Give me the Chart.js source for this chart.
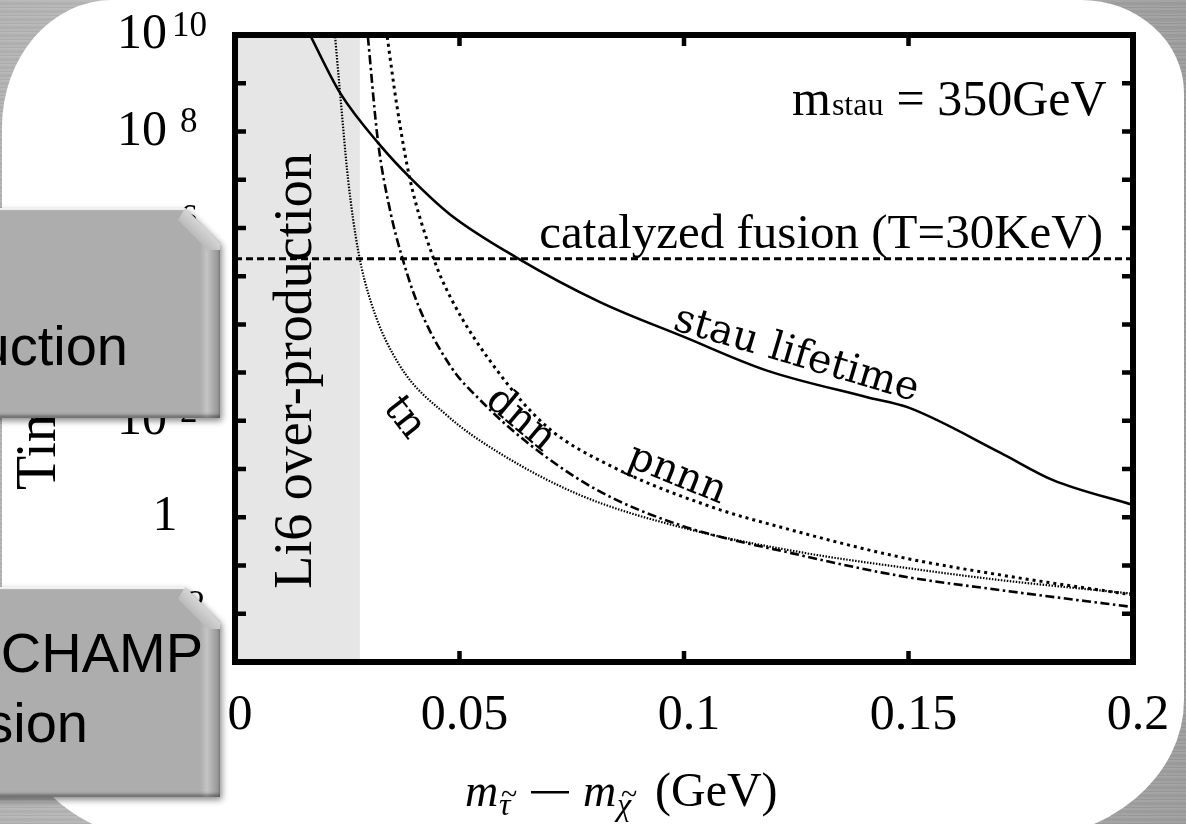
<!DOCTYPE html>
<html>
<head>
<meta charset="utf-8">
<script src="https://cdn.jsdelivr.net/npm/chart.js@4.4.0/dist/chart.umd.min.js"></script>
<style>
html, body { margin: 0; padding: 0; }
body {
  width: 1186px; height: 824px; overflow: hidden; position: relative;
  background:
    repeating-linear-gradient(180deg, rgba(255,255,255,.05) 0 2px, rgba(0,0,0,.03) 2px 5px, rgba(255,255,255,.03) 5px 7px, rgba(0,0,0,.05) 7px 8px),
    linear-gradient(90deg, #b4b4b4, #c6c6c6 40%, #b0b0b0 70%, #9e9e9e);
}
#card {
  position: absolute; left: 2px; top: 0; width: 1182px; height: 840px; background: #fff;
  border-radius: 110px 103px 168px 160px / 127px 93px 140px 160px;
}
#chart { position: absolute; left: 0; top: 0; }
.box { position: absolute; left: -300px; width: 520px; height: 210px; filter: drop-shadow(2px 3px 3px rgba(0,0,0,.45)); }
.face {
  position: absolute; inset: 0;
  clip-path: polygon(0 0, 485px 0, 520px 35px, 520px 100%, 0 100%);
  background: linear-gradient(90deg, #adadad 0, #adadad 500px, #c4c4c4 507px, #8e8e8e 520px);
  box-shadow: inset 0 3px 1px -1px rgba(255,255,255,.85), inset 0 -3px 3px rgba(0,0,0,.35);
}
.bevel {
  position: absolute; left: 478px; top: 0; width: 42px; height: 42px;
  clip-path: polygon(7px 0, 42px 35px, 42px 42px, 30px 42px, 0 12px);
  background: linear-gradient(45deg, #8f8f8f, #d8d8d8 60%, #bcbcbc);
}
.txt {
  position: absolute; font: 56px "Liberation Sans", Arial, sans-serif; line-height: 56px;
  color: #000; white-space: nowrap;
}
</style>
</head>
<body>
<div id="card"></div>
<canvas id="chart" width="1186" height="824"></canvas>
<div class="box" style="top:208px">
  <div class="face"></div><div class="bevel"></div>
  <div class="txt" style="right:92px; top:110px">over-production</div>
</div>
<div class="box" style="top:587px">
  <div class="face"></div><div class="bevel"></div>
  <div class="txt" style="right:17px; top:38px">CHAMP</div>
  <div class="txt" style="right:132px; top:108px">fusion</div>
</div>
<script>
// axis ticks
var xTicks = [0, 0.05, 0.1, 0.15, 0.2];
var yDecades = [1e-3, 1e-2, 1e-1, 1, 1e1, 1e2, 1e3, 1e4, 1e5, 1e6, 1e7, 1e8, 1e9, 1e10];
var yLabelExps = [-2, 0, 2, 4, 6, 8, 10];

// curves (x in GeV, y in sec)
var stauX = [0.0167, 0.0234, 0.0323, 0.039, 0.0479, 0.0628, 0.0813, 0.1, 0.1185, 0.1408, 0.1499, 0.1704, 0.1822, 0.2];
var stauY = [1e10, 6.3e8, 5.2e7, 1.1e7, 1.9e6, 2.4e5, 2.9e4, 5.5e3, 1.1e3, 310, 190, 22, 5.9, 1.8];

var tnX = [0.0223, 0.0234, 0.0252, 0.0274, 0.0305, 0.0367, 0.0472, 0.0584, 0.0768, 0.0991, 0.1258, 0.1481, 0.1704, 0.2];
var tnY = [9.1e9, 6.3e8, 9.9e6, 3.5e5, 2.5e4, 1.4e3, 130, 23, 2.9, 0.63, 0.19, 0.093, 0.05, 0.026];

var dnnX = [0.0296, 0.0318, 0.0345, 0.0372, 0.0408, 0.0479, 0.0546, 0.0657, 0.0806, 0.0991, 0.1258, 0.1481, 0.1704, 0.2];
var dnnY = [9.1e9, 6.7e7, 2.4e6, 2.5e5, 2.5e4, 1.4e3, 270, 32, 3.7, 0.69, 0.165, 0.061, 0.031, 0.0138];

var pnnnX = [0.0339, 0.0361, 0.039, 0.0441, 0.0483, 0.0584, 0.0695, 0.0842, 0.1065, 0.1214, 0.1481, 0.1704, 0.2];
var pnnnY = [9.1e9, 3.2e8, 9.9e6, 2.5e5, 3.2e4, 1.1e3, 75, 11, 1.6, 0.63, 0.15, 0.064, 0.0245];

var fusionLevel = 2.3e5;   // catalyzed fusion (T=30KeV)
var li6Edge = 0.0278;      // Li6 over-production band

function pts(xs, ys) {
  var out = [];
  for (var i in xs) out.push({x: xs[i], y: ys[i]});
  return out;
}

var serif = '"Liberation Serif", "Times New Roman", serif';
var curveFont = '40px "DejaVu Serif", serif';

var curveLabels = [
  {text: 'stau lifetime', x: 0.125, y: 2.3e3, angle: 16.5},
  {text: 'pnnn', x: 0.0984, y: 7.5, angle: 22},
  {text: 'dnn', x: 0.0635, y: 105, angle: 40},
  {text: 'tn', x: 0.0376, y: 115, angle: 52}
];

function drawPow(ctx, exp, yp) {
  ctx.fillStyle = '#000';
  ctx.textBaseline = 'middle';
  if (exp === 0) {
    ctx.font = '50px ' + serif;
    ctx.textAlign = 'center';
    ctx.fillText('1', 165, yp);
    return;
  }
  ctx.font = '50px ' + serif;
  ctx.textAlign = 'right';
  ctx.fillText('10', 167, yp);
  ctx.font = '35px ' + serif;
  ctx.textAlign = 'left';
  ctx.textBaseline = 'alphabetic';
  var sx = (exp >= 10) ? 172 : (exp < 0 ? 176 : 180);
  ctx.fillText(String(exp), sx, yp + 1);
}

var decor = {
  id: 'decor',
  beforeDatasetsDraw: function(chart) {
    var ctx = chart.ctx, a = chart.chartArea, x = chart.scales.x;
    ctx.save();
    ctx.fillStyle = '#e6e6e6';
    ctx.fillRect(a.left, a.top, x.getPixelForValue(li6Edge) - a.left, a.bottom - a.top);
    ctx.translate(311, 371);
    ctx.rotate(-Math.PI / 2);
    ctx.fillStyle = '#000';
    ctx.font = '54px ' + serif;
    ctx.textAlign = 'center';
    ctx.textBaseline = 'alphabetic';
    ctx.fillText('Li6 over-production', 0, 0);
    ctx.restore();
  },
  afterDatasetsDraw: function(chart) {
    var ctx = chart.ctx, a = chart.chartArea, x = chart.scales.x, y = chart.scales.y;
    ctx.save();
    // inward ticks
    ctx.strokeStyle = '#000';
    ctx.lineWidth = 4.5;
    ctx.beginPath();
    yDecades.forEach(function(v) {
      var p = y.getPixelForValue(v);
      ctx.moveTo(a.left, p); ctx.lineTo(a.left + 11, p);
      ctx.moveTo(a.right, p); ctx.lineTo(a.right - 11, p);
    });
    xTicks.forEach(function(v) {
      var p = x.getPixelForValue(v);
      ctx.moveTo(p, a.bottom); ctx.lineTo(p, a.bottom - 11);
      ctx.moveTo(p, a.top); ctx.lineTo(p, a.top + 11);
    });
    ctx.stroke();
    // frame
    ctx.lineWidth = 6;
    ctx.strokeRect(a.left, a.top, a.right - a.left, a.bottom - a.top);

    // tick labels
    ctx.fillStyle = '#000';
    ctx.font = '50px ' + serif;
    ctx.textAlign = 'center';
    ctx.textBaseline = 'middle';
    xTicks.forEach(function(v) {
      ctx.fillText(String(v), x.getPixelForValue(v) + 5, 716);
    });
    yLabelExps.forEach(function(e) {
      drawPow(ctx, e, y.getPixelForValue(Math.pow(10, e)));
    });

    // texts inside the plot
    ctx.textBaseline = 'alphabetic';
    ctx.textAlign = 'right';
    ctx.font = '49px ' + serif;
    ctx.fillText('catalyzed fusion (T=30KeV)', 1103, y.getPixelForValue(fusionLevel) - 11);

    ctx.textAlign = 'left';
    var cx = 792;
    ctx.font = '50px ' + serif;
    ctx.fillText('m', cx, 115); cx += ctx.measureText('m').width + 1;
    ctx.font = '32px ' + serif;
    ctx.fillText('stau', cx, 115); cx += ctx.measureText('stau').width + 13;
    ctx.font = '50px ' + serif;
    ctx.fillText('= 350GeV', cx, 115);

    ctx.font = curveFont;
    ctx.textAlign = 'center';
    ctx.textBaseline = 'middle';
    curveLabels.forEach(function(l) {
      ctx.save();
      ctx.translate(x.getPixelForValue(l.x), y.getPixelForValue(l.y));
      ctx.rotate(l.angle * Math.PI / 180);
      ctx.fillText(l.text, 0, 0);
      ctx.restore();
    });

    // axis titles
    ctx.save();
    ctx.translate(55, 490);
    ctx.rotate(-Math.PI / 2);
    ctx.textAlign = 'left';
    ctx.textBaseline = 'alphabetic';
    ctx.font = '56px ' + serif;
    ctx.fillText('Time (sec)', 0, 0);
    ctx.restore();

    ctx.textAlign = 'left';
    ctx.textBaseline = 'alphabetic';
    var by = 806;
    ctx.font = 'italic 46px ' + serif;
    ctx.fillText('m', 465, by);
    ctx.fillText('m', 583, by);
    ctx.font = 'italic 32px ' + serif;
    ctx.fillText('\u03c4', 499, by + 9);
    ctx.fillText('\u03c7', 617, by + 9);
    ctx.font = '30px ' + serif;
    ctx.fillText('~', 501, by - 2);
    ctx.fillText('~', 621, by - 2);
    ctx.fillRect(531, by - 15, 38, 2.5);
    ctx.font = '48px ' + serif;
    ctx.fillText('(GeV)', 655, by);
    ctx.restore();
  }
};

function line(data, dash, width) {
  return {
    data: data,
    borderColor: '#000',
    borderWidth: width,
    borderDash: dash,
    pointRadius: 0,
    fill: false,
    cubicInterpolationMode: 'monotone'
  };
}

var chart = new Chart(document.getElementById('chart'), {
  type: 'line',
  data: {
    datasets: [
      line(pts([0, 0.2], [fusionLevel, fusionLevel]), [7, 4], 3),
      line(pts(stauX, stauY), [], 2.6),
      line(pts(tnX, tnY), [1.5, 1.5], 2.2),
      line(pts(dnnX, dnnY), [9, 3.5, 2.5, 3.5], 2.6),
      line(pts(pnnnX, pnnnY), [3, 4], 3)
    ]
  },
  options: {
    responsive: false,
    animation: false,
    devicePixelRatio: 1,
    layout: { padding: { left: 235, right: 53, top: 35, bottom: 162 } },
    plugins: { legend: { display: false }, tooltip: { enabled: false } },
    scales: {
      x: { type: 'linear', min: 0, max: 0.2, display: false },
      y: { type: 'logarithmic', min: 1e-3, max: 1e10, display: false }
    }
  },
  plugins: [decor]
});
</script>
</body>
</html>
